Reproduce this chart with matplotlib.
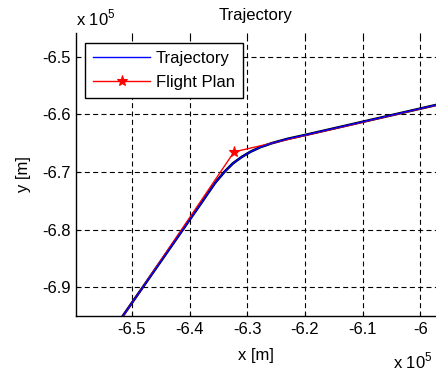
import matplotlib
matplotlib.use("Agg")
import matplotlib.pyplot as plt

plt.rcParams['font.family'] = ['Liberation Sans', 'DejaVu Sans']
plt.rcParams['mathtext.fontset'] = 'custom'
plt.rcParams['mathtext.rm'] = 'Liberation Sans'

FS = 12

# positions in units of 1e5 m
traj_x = [-6.530, -6.5156, -6.382, -6.356, -6.340, -6.325, -6.310, -6.295,
          -6.278, -6.258, -6.230, -6.200, -5.950]
traj_y = [-6.971, -6.950, -6.757, -6.719, -6.700, -6.685, -6.674, -6.665,
          -6.657, -6.650, -6.6423, -6.6357, -6.5782]

plan_x = [-6.600, -6.323, -5.900]
plan_y = [-7.076, -6.665, -6.567]

x_ticks = [-6.5, -6.4, -6.3, -6.2, -6.1, -6.0]
x_labels = ["-6.5", "-6.4", "-6.3", "-6.2", "-6.1", "-6"]
y_ticks = [-6.5, -6.6, -6.7, -6.8, -6.9]
y_labels = ["-6.5", "-6.6", "-6.7", "-6.8", "-6.9"]

fig = plt.figure(figsize=(4.36, 3.73), dpi=100)
ax = fig.add_axes([0.1743, 0.1528, 0.8257, 0.7587])

# black edge under the flown path
ax.plot(traj_x, traj_y, color='k', lw=1.9, zorder=3)
plan_line, = ax.plot(plan_x, plan_y, color='r', lw=1.0, marker='*',
                     markersize=8, markeredgewidth=0.8, zorder=4)
traj_line, = ax.plot(traj_x, traj_y, color='b', lw=1.0, zorder=5)

ax.set_xlim(-6.597, -5.973)
ax.set_ylim(-6.9504, -6.4583)
ax.set_xticks(x_ticks)
ax.set_xticklabels(x_labels)
ax.set_yticks(y_ticks)
ax.set_yticklabels(y_labels)

ax.grid(True, color='k', linestyle=(0, (4.5, 3)), lw=0.8)
ax.spines['top'].set_visible(False)
ax.spines['right'].set_visible(False)
ax.spines['left'].set_linewidth(1.0)
ax.spines['bottom'].set_linewidth(1.0)
ax.tick_params(direction='in', length=3, labelsize=FS, pad=4, top=True)

ax.set_title("Trajectory", fontsize=FS, pad=9.5)
ax.set_xlabel("x [m]", fontsize=FS, labelpad=8)
ax.set_ylabel("y [m]", fontsize=FS, labelpad=7.5)

fig.text(76 / 436, 1 - 25 / 373, r"x 10$^{\mathregular{5}}$", fontsize=FS,
         ha='left', va='baseline')
fig.text(393 / 436, 1 - 368 / 373, r"x 10$^{\mathregular{5}}$", fontsize=FS,
         ha='left', va='baseline')

leg = ax.legend([traj_line, plan_line], ["Trajectory", "Flight Plan"],
                loc='upper left', bbox_to_anchor=(0.025, 0.965),
                fontsize=FS, handlelength=3.4, handletextpad=0.35,
                labelspacing=0.5, borderpad=0.5, fancybox=False,
                framealpha=1, edgecolor='k', borderaxespad=0)
leg.get_frame().set_linewidth(1.0)

fig.savefig("out.png", dpi=100)
